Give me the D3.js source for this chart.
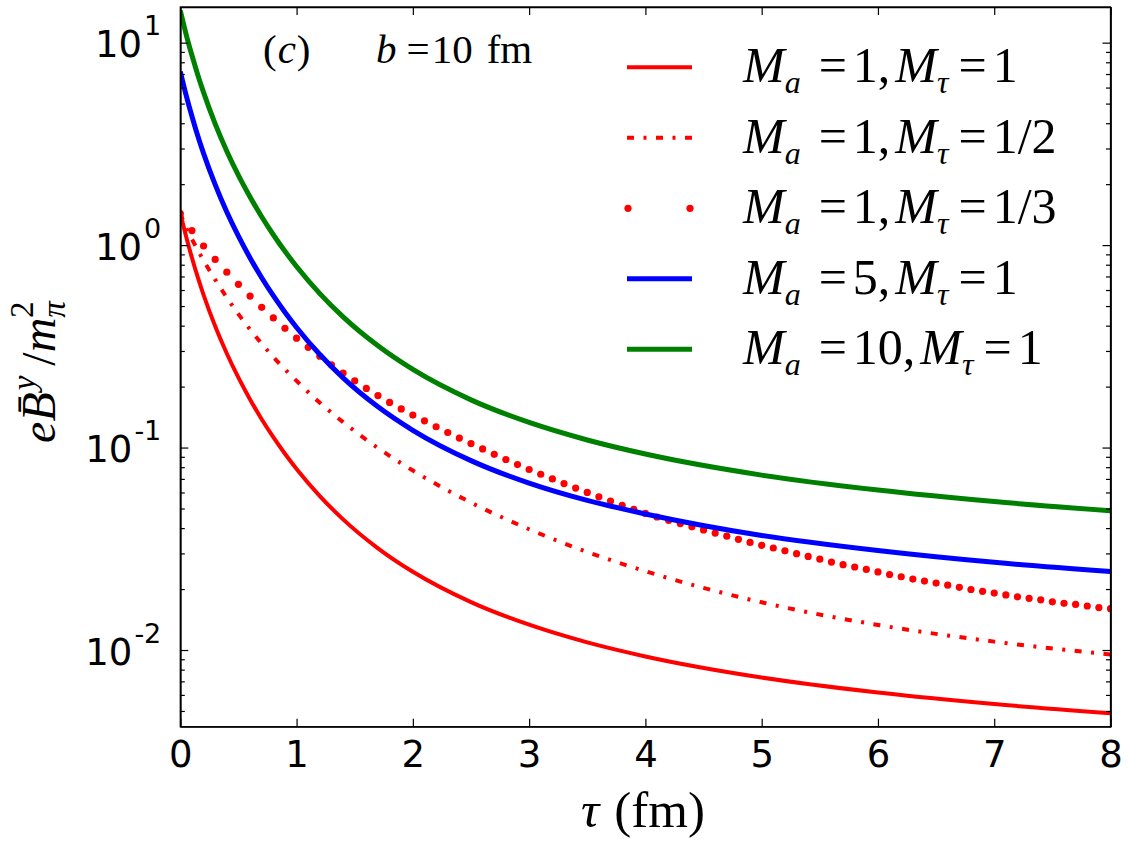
<!DOCTYPE html>
<html><head><meta charset="utf-8">
<script src="https://cdn.jsdelivr.net/npm/d3@7"></script>
<style>
html,body{margin:0;padding:0;background:#fff;}
svg{display:block;}
</style></head>
<body>
<svg id="chart" width="1129" height="849"></svg>
<script>
// ---------- data ----------
const tauLine = [0,0.05,0.1,0.15,0.2,0.3,0.4,0.5,0.6,0.7,0.8,0.9,1.0,1.2,1.4,1.7,2.0,2.5,3.0,3.5,4.0,5.0,6.0,7.0,8.0];
const red_M1_T1 = [1.44,1.1025,0.8655,0.6946,0.568,0.3973,0.2914,0.2213,0.1728,0.138,0.1125,0.0932,0.0784,0.0576,0.0442,0.0318,0.02434,0.01724,0.01333,0.0109,0.00929,0.00731,0.00617,0.00541,0.00487];
const red_M1_T2 = [1.44,1.218,1.07,0.945,0.84,0.675,0.551,0.456,0.383,0.326,0.28,0.2435,0.2135,0.1665,0.1335,0.0995,0.077,0.0535,0.0395,0.0305,0.0245,0.0172,0.0133,0.011,0.0095];
const blue_M5_T1 = [7.2,5.51,4.33,3.47,2.84,1.99,1.457,1.107,0.864,0.69,0.5625,0.466,0.392,0.288,0.221,0.159,0.1217,0.0862,0.0667,0.0548,0.0470,0.0368,0.0310,0.0271,0.0244];
const green_M10_T1 = [14.4,11.0,8.66,6.95,5.68,3.97,2.91,2.21,1.73,1.38,1.125,0.932,0.784,0.576,0.442,0.318,0.243,0.172,0.133,0.109,0.0929,0.0731,0.0617,0.0541,0.0487];
const tauDots = [0.0,0.1,0.2,0.3,0.4,0.5,0.6,0.7,0.8,0.9,1.0,1.1,1.2,1.3,1.4,1.5,1.6,1.7,1.8,1.9,2.0,2.1,2.2,2.3,2.4,2.5,2.6,2.7,2.8,2.9,3.0,3.1,3.2,3.3,3.4,3.5,3.6,3.7,3.8,3.9,4.0,4.1,4.2,4.3,4.4,4.5,4.6,4.7,4.8,4.9,5.0,5.1,5.2,5.3,5.4,5.5,5.6,5.7,5.8,5.9,6.0,6.1,6.2,6.3,6.4,6.5,6.6,6.7,6.8,6.9,7.0,7.1,7.2,7.3,7.4,7.5,7.6,7.7,7.8,7.9,8.0];
const red_M1_T3 = [1.43,1.18,0.99,0.85,0.735,0.64,0.56,0.493,0.437,0.388,0.347,0.3125,0.2825,0.2565,0.2335,0.2135,0.196,0.1806,0.167,0.1551,0.1447,0.1355,0.1267,0.1187,0.1114,0.1046,0.0984,0.0926,0.0873,0.0824,0.0779,0.0738,0.0700,0.0664,0.0631,0.0600,0.0571,0.0544,0.0518,0.0495,0.0473,0.0454,0.0437,0.0421,0.0406,0.0392,0.0378,0.0365,0.0352,0.0340,0.0329,0.0319,0.0309,0.0299,0.0290,0.0281,0.0272,0.0264,0.0257,0.0250,0.0243,0.0236,0.0230,0.0224,0.0219,0.0214,0.0209,0.0204,0.0199,0.0195,0.0191,0.0187,0.0183,0.0180,0.0177,0.0173,0.0170,0.0168,0.0165,0.0162,0.0160];
const xTicks = [0,1,2,3,4,5,6,7,8];
const yMajor = [0.01,0.1,1,10];
const yMajorExp = ["-2","-1","0","1"];
const yMinor = [0.005,0.006,0.007,0.008,0.009,0.02,0.03,0.04,0.05,0.06,0.07,0.08,0.09,0.2,0.3,0.4,0.5,0.6,0.7,0.8,0.9,2,3,4,5,6,7,8,9];
const legendMa = ["1","1","1","5","10"];
const legendMt = ["1","1/2","1/3","1","1"];

// ---------- layout ----------
const L = 180.3, R = 1110.5, T = 7, B = 726.7;
const svg = d3.select("#chart");
const x = d3.scaleLinear().domain([0,8]).range([L,R]);
const y = d3.scaleLog().domain([0.00418,15]).range([B,T]);

svg.append("defs").append("clipPath").attr("id","clip")
  .append("rect").attr("x",L).attr("y",T).attr("width",R-L).attr("height",B-T);

const plot = svg.append("g").attr("clip-path","url(#clip)");
const line = d3.line().x(d=>x(d[0])).y(d=>y(d[1])).curve(d3.curveMonotoneX);
const zip = (a,b)=>a.map((v,i)=>[v,b[i]]);

plot.append("path").datum(zip(tauLine,red_M1_T1))
  .attr("d",line).attr("fill","none").attr("stroke","#ff0000").attr("stroke-width",4);
plot.append("path").datum(zip(tauLine,red_M1_T2))
  .attr("d",line).attr("fill","none").attr("stroke","#ff0000").attr("stroke-width",4)
  .attr("stroke-dasharray","7,9.5,3,9.5");
plot.append("g").selectAll("circle").data(zip(tauDots,red_M1_T3)).join("circle")
  .attr("cx",d=>x(d[0])).attr("cy",d=>y(d[1])).attr("r",3.6).attr("fill","#ff0000");
plot.append("path").datum(zip(tauLine,blue_M5_T1))
  .attr("d",line).attr("fill","none").attr("stroke","#0000ff").attr("stroke-width",5);
plot.append("path").datum(zip(tauLine,green_M10_T1))
  .attr("d",line).attr("fill","none").attr("stroke","#008000").attr("stroke-width",5);

// ---------- axes ----------
const axStyle = g => { g.selectAll("path.domain").attr("stroke","#000").attr("stroke-width",1.3);
  g.selectAll(".tick line").attr("stroke","#000").attr("stroke-width",1.2); };

const gx = svg.append("g").attr("transform",`translate(0,${B})`)
  .call(d3.axisBottom(x).tickValues(xTicks).tickSize(-8).tickPadding(14).tickFormat(d3.format("d")).tickSizeOuter(0));
gx.call(axStyle);
gx.selectAll("text").attr("font-family","DejaVu Sans").attr("font-size",37).attr("fill","#000");

svg.append("g").attr("transform",`translate(0,${T})`)
  .call(d3.axisTop(x).tickValues(xTicks).tickSize(-8).tickFormat("").tickSizeOuter(0)).call(axStyle);

const gy = svg.append("g").attr("transform",`translate(${L},0)`)
  .call(d3.axisLeft(y).tickValues(yMajor).tickSize(-8).tickPadding(19).tickFormat("").tickSizeOuter(0));
gy.call(axStyle);
gy.selectAll(".tick text").each(function(d,i){
  const t = d3.select(this).attr("font-family","DejaVu Sans").attr("fill","#000").attr("dy",null).attr("y",14);
  t.append("tspan").attr("font-size",37).text("10");
  t.append("tspan").attr("font-size",27).attr("dx",2).attr("dy",-22).text(yMajorExp[i]);
});
svg.append("g").attr("transform",`translate(${L},0)`)
  .call(d3.axisLeft(y).tickValues(yMinor).tickSize(-4.5).tickFormat("").tickSizeOuter(0)).call(axStyle);
svg.append("g").attr("transform",`translate(${R},0)`)
  .call(d3.axisRight(y).tickValues(yMajor).tickSize(-8).tickFormat("").tickSizeOuter(0)).call(axStyle);
svg.append("g").attr("transform",`translate(${R},0)`)
  .call(d3.axisRight(y).tickValues(yMinor).tickSize(-4.5).tickFormat("").tickSizeOuter(0)).call(axStyle);

// frame
svg.append("rect").attr("x",L).attr("y",T).attr("width",R-L).attr("height",B-T)
  .attr("fill","none").attr("stroke","#000").attr("stroke-width",1.3);

// ---------- axis labels ----------
const serif = "Liberation Serif";
const xl = svg.append("text").attr("x",643).attr("y",827).attr("text-anchor","middle")
  .attr("font-family",serif).attr("font-size",51).attr("fill","#000");
xl.append("tspan").attr("font-style","italic").text("τ");
xl.append("tspan").attr("dx",15).text("(fm)");

const yl = svg.append("text").attr("transform","translate(55,372) rotate(-90)")
  .attr("text-anchor","middle").attr("font-family",serif).attr("font-size",48).attr("fill","#000");
yl.append("tspan").attr("font-style","italic").text("e");
yl.append("tspan").attr("font-style","italic").text("B\u0304");
yl.append("tspan").attr("font-style","italic").attr("font-size",33).attr("dx",2).attr("dy",-20).text("y");
yl.append("tspan").attr("dy",20).attr("dx",10).text("/");
yl.append("tspan").attr("font-style","italic").text("m");
yl.append("tspan").attr("font-style","italic").attr("font-size",33).attr("dy",10).text("π");
yl.append("tspan").attr("font-size",33).attr("dx",-17).attr("dy",-32).text("2");

// ---------- annotations ----------
const an = svg.append("text").attr("x",263).attr("y",63).attr("font-family",serif).attr("font-size",41).attr("fill","#000");
an.append("tspan").text("(");
an.append("tspan").attr("font-style","italic").attr("dx",1).text("c");
an.append("tspan").attr("dx",1).text(")");
const bn = svg.append("text").attr("x",376).attr("y",63).attr("font-family",serif).attr("font-size",41).attr("fill","#000");
bn.append("tspan").attr("font-style","italic").text("b");
bn.append("tspan").attr("dx",10).text("=");
bn.append("tspan").attr("dx",2).text("10");
bn.append("tspan").attr("dx",14).text("fm");

// ---------- legend ----------
const legY0 = 67.3, legDy = 70.5, lx0 = 627, lx1 = 692;
const lg = svg.append("g");
const styles = [
  {c:"#ff0000", w:4, dash:null, dots:false},
  {c:"#ff0000", w:4, dash:"7,9.5,3,9.5", dots:false},
  {c:"#ff0000", w:0, dash:null, dots:true},
  {c:"#0000ff", w:5, dash:null, dots:false},
  {c:"#008000", w:5, dash:null, dots:false}
];
styles.forEach((s,i)=>{
  const yy = legY0 + i*legDy;
  if (s.dots) {
    [lx0+1, lx1-2].forEach(cx=>lg.append("circle").attr("cx",cx).attr("cy",yy).attr("r",3.6).attr("fill",s.c));
  } else {
    lg.append("line").attr("x1",lx0).attr("x2",lx1).attr("y1",yy).attr("y2",yy)
      .attr("stroke",s.c).attr("stroke-width",s.w).attr("stroke-dasharray",s.dash);
  }
  const t = lg.append("text").attr("x",743).attr("y",yy+15).attr("font-family",serif).attr("font-size",50).attr("fill","#000");
  t.append("tspan").attr("font-style","italic").text("M");
  t.append("tspan").attr("font-style","italic").attr("font-size",32).attr("dy",11).text("a");
  t.append("tspan").attr("dy",-11).attr("dx",18).text("=");
  t.append("tspan").attr("dx",6).text(legendMa[i]);
  t.append("tspan").text(",");
  t.append("tspan").attr("font-style","italic").attr("dx",5).text("M");
  t.append("tspan").attr("font-style","italic").attr("font-size",32).attr("dy",11).text("τ");
  t.append("tspan").attr("dy",-11).attr("dx",10).text("=");
  t.append("tspan").attr("dx",6).text(legendMt[i]);
});
</script>
</body></html>
